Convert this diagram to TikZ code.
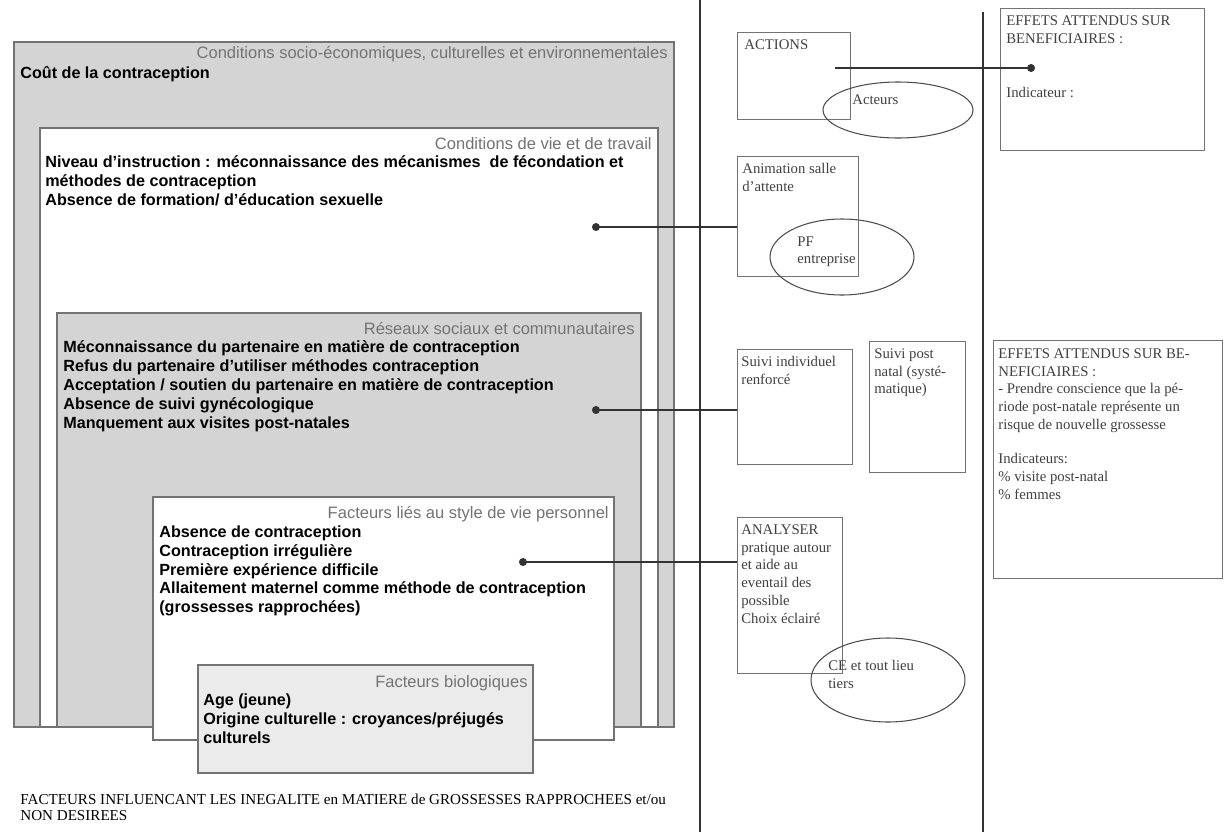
\documentclass[tikz,border=0pt]{standalone}
\usepackage{fontspec}
\setmainfont{Liberation Serif}
\setsansfont{Liberation Sans}
\usetikzlibrary{arrows.meta}

\tikzset{
  sep/.style={draw=black!80, line width=0.6pt},
  factbox/.style={draw=black!55, line width=0.9pt},
  boxtitle/.style={anchor=east, inner sep=0pt, text=black!55, font=\sffamily\fontsize{9.4}{11}\selectfont},
  factors/.style={anchor=north west, inner sep=0pt, align=left, font=\sffamily\bfseries\fontsize{9.2}{10.8}\selectfont},
  actbox/.style={draw=black!55, line width=0.8pt, anchor=north west, inner sep=0pt},
  acttext/.style={anchor=north west, inner sep=0pt, align=left, text=black!75, font=\fontsize{8.4}{10.2}\selectfont},
  bubble/.style={draw=black!70, line width=0.6pt},
  link/.style={draw=black!80, line width=0.6pt, -{Circle[length=4.5pt]}},
}

\begin{document}
\begin{tikzpicture}[x=0.02cm,y=-0.02cm]
\useasboundingbox (0,0) rectangle (1227,832);

% separateurs
\draw[sep] (700,0) -- (700,832);
\draw[sep] (983,12) -- (983,832);

% facteurs emboites
\draw[factbox,fill=black!17] (14,42) rectangle (674,727);
\node[boxtitle] (t1) at (668,54) {Conditions socio-économiques, culturelles et environnementales};
\node[factors] (f1) at (20,66) {Coût de la contraception};

\draw[factbox,fill=white] (40,128) rectangle (658,727);
\node[boxtitle] (t2) at (652,144) {Conditions de vie et de travail};
\node[factors] (f2) at (45,155) {Niveau d'instruction : méconnaissance des mécanismes \ de fécondation et\\
méthodes de contraception\\
Absence de formation/ d'éducation sexuelle};

\draw[factbox,fill=black!17] (57,313) rectangle (641,727);
\node[boxtitle] (t3) at (635,328) {Réseaux sociaux et communautaires};
\node[factors] (f3) at (63,340) {Méconnaissance du partenaire en matière de contraception\\
Refus du partenaire d'utiliser méthodes contraception\\
Acceptation / soutien du partenaire en matière de contraception\\
Absence de suivi gynécologique\\
Manquement aux visites post-natales};

\draw[factbox,fill=white] (153,497) rectangle (614,740);
\node[boxtitle] (t4) at (609,514) {Facteurs liés au style de vie personnel};
\node[factors] (f4) at (159,525) {Absence de contraception\\
Contraception irrégulière\\
Première expérience difficile\\
Allaitement maternel comme méthode de contraception\\
(grossesses rapprochées)};

\draw[factbox,fill=black!8] (198,665) rectangle (533,773);
\node[boxtitle] (t5) at (528,683) {Facteurs biologiques};
\node[factors] (f5) at (203,693) {Age (jeune)\\
Origine culturelle : croyances/préjugés\\
culturels};

\node[anchor=north west, inner sep=0pt, align=left, font=\fontsize{8.6}{8.8}\selectfont] (legende) at (20,794)
  {FACTEURS INFLUENCANT LES INEGALITE en MATIERE de GROSSESSES RAPPROCHEES et/ou\\ NON DESIREES};

% actions
\node[actbox, minimum width=2.26cm, minimum height=1.74cm] (actions) at (737,32) {};
\node[acttext] (ta) at (744,39) {ACTIONS};
\node[actbox, minimum width=2.42cm, minimum height=2.4cm] (anim) at (737,156) {};
\node[acttext] (tb) at (742,163) {Animation salle\\d'attente};
\node[actbox, minimum width=2.3cm, minimum height=2.3cm] (suivi) at (737,349) {};
\node[acttext] (tc) at (741,356) {Suivi individuel\\renforcé};
\node[actbox, minimum width=1.92cm, minimum height=2.62cm] (postnatal) at (869,341) {};
\node[acttext] (td) at (874,348) {Suivi post\\natal (systé-\\matique)};
\node[actbox, minimum width=2.1cm, minimum height=3.12cm] (analyser) at (737,517) {};
\node[acttext] (te) at (741,524) {ANALYSER\\pratique autour\\et aide au\\eventail des\\possible\\Choix éclairé};

% acteurs
\draw[bubble] (898,110) ellipse [x radius=75, y radius=28];
\node[acttext] (ua) at (852,94) {Acteurs};
\draw[bubble] (842,257) ellipse [x radius=72, y radius=38];
\node[acttext] (ub) at (797,236) {PF\\entreprise};
\draw[bubble] (888,680) ellipse [x radius=77, y radius=42];
\node[acttext] (uc) at (828,660) {CE et tout lieu\\tiers};

% effets
\node[actbox, minimum width=4.08cm, minimum height=2.84cm] (effets) at (1000,8) {};
\node[acttext] (va) at (1006,15) {EFFETS ATTENDUS SUR\\BENEFICIAIRES :\\[21pt]Indicateur :};
\node[actbox, minimum width=4.58cm, minimum height=4.76cm] (effetsbis) at (993,340) {};
\node[acttext] (vb) at (998,348) {EFFETS ATTENDUS SUR BE-\\NEFICIAIRES :\\- Prendre conscience que la pé-\\riode post-natale représente un\\risque de nouvelle grossesse\\[9pt]Indicateurs:\\\% visite post-natal\\\% femmes};

% liens
\coordinate (a0) at (835,68);
\coordinate (d1) at (1035,68);
\coordinate (d2) at (592,227);
\coordinate (d3) at (592,410);
\coordinate (d4) at (519,562);
\draw[link] (a0) -- (d1);
\draw[link] (d2 -| anim.west) -- (d2);
\draw[link] (d3 -| suivi.west) -- (d3);
\draw[link] (d4 -| analyser.west) -- (d4);

\end{tikzpicture}
\end{document}
